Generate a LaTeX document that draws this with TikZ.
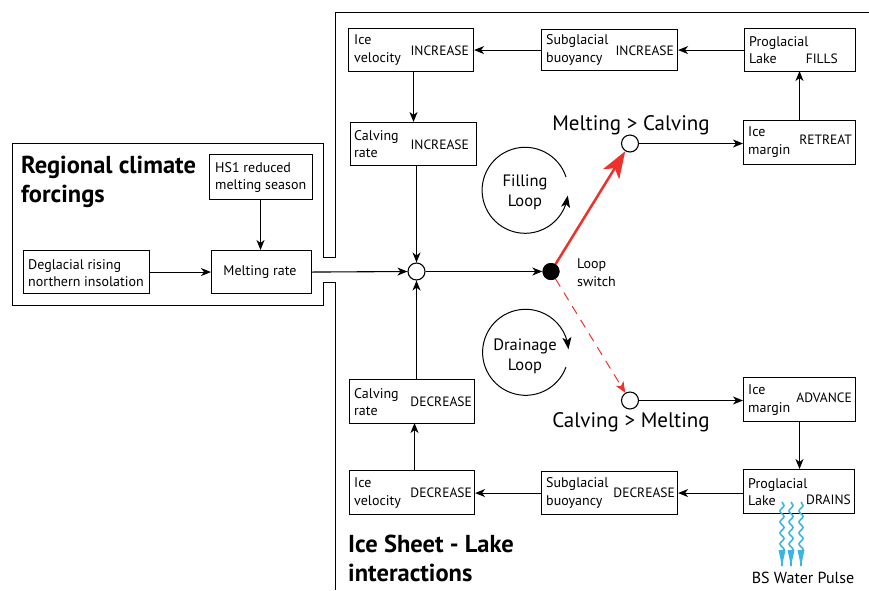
\documentclass[tikz,border=0pt]{standalone}
\usepackage{fontspec}
\setmainfont{PT Sans}
\usetikzlibrary{arrows.meta,decorations.pathmorphing,bending}
\definecolor{redarrow}{RGB}{237,50,43}
\definecolor{bluewater}{RGB}{60,180,228}
\tikzset{
 x=1pt,y=-1pt,
 bx/.style={draw=black,line width=1.1pt,inner sep=0pt},
 con/.style={line width=1.1pt,-{Stealth[length=10pt,width=8pt,inset=3pt]}},
 lbl/.style={font=\fontsize{14}{17.5}\selectfont,align=left,anchor=west,inner sep=0pt},
 vlbl/.style={font=\fontsize{13.5}{17.5}\selectfont,anchor=east,inner sep=0pt},
 clbl/.style={font=\fontsize{14}{17.5}\selectfont,align=center,inner sep=0pt},
 big/.style={font=\fontsize{21}{26}\selectfont,inner sep=0pt},
 head/.style={font=\fontsize{24.5}{29}\selectfont\bfseries,align=left,anchor=west,inner sep=0pt},
 loopl/.style={font=\fontsize{16.5}{20}\selectfont,align=center,inner sep=0pt},
 wh/.style={circle,draw=black,line width=1.1pt,fill=white,minimum size=17pt,inner sep=0pt},
 blk/.style={circle,fill=black,minimum size=17pt,inner sep=0pt},
 wave/.style={draw=bluewater,line width=1.6pt,decorate,decoration={snake,amplitude=2pt,segment length=11pt,post length=9pt}},
 wtip/.style={fill=bluewater,draw=none},
}
\newcommand{\boxat}[4]{\node[bx,minimum width=#3pt,minimum height=#4pt,anchor=north west] (#1) at (#2) {}; }
\begin{document}
\begin{tikzpicture}
\useasboundingbox (0,0) rectangle (869,590);
% frames
\draw[line width=1.1pt] (869,12.5) -- (335.5,12.5) -- (335.5,257.5) -- (323.5,257.5) -- (323.5,143.5) -- (12.5,143.5) -- (12.5,305.5) -- (323.5,305.5) -- (323.5,282.5) -- (335.5,282.5) -- (335.5,590);
% boxes
\boxat{hs}{209,154}{103}{45}
\boxat{melt}{211,250}{100}{43}
\boxat{degl}{23,250}{126}{43}
\boxat{iv1}{348,28}{125}{43}
\boxat{sb1}{541,29}{136}{41}
\boxat{pl1}{744,28}{111}{43}
\boxat{cr1}{350,122}{126}{43}
\boxat{im1}{743,120}{112}{44}
\boxat{cr2}{349,379}{125}{44}
\boxat{iv2}{349,470}{125}{44}
\boxat{sb2}{541,471}{136}{43}
\boxat{pl2}{743,469}{111}{44}
\boxat{im2}{743,377}{112}{44}
% box text
\node[head] (tr) at (21,182) {Regional climate\\forcings};
\node[head] (ti) at (348,558) {Ice Sheet - Lake\\interactions};
\node[lbl] (t1) at (215,177.5) {HS1 reduced\\melting season};
\node[lbl] (t2) at (28,273) {Deglacial rising\\northern insolation};
\node[clbl] (t3) at (260,272) {Melting rate};
\node[lbl] (a1) at (354,50) {Ice\\velocity}; \node[vlbl] (a2) at (469,51) {INCREASE};
\node[lbl] (b1) at (546,50) {Subglacial\\buoyancy}; \node[vlbl] (b2) at (674,51) {INCREASE};
\node[lbl] (c1) at (749,50) {Proglacial\\Lake}; \node[vlbl] (c2) at (838,59) {FILLS};
\node[lbl] (d1) at (354,144) {Calving\\rate}; \node[vlbl] (d2) at (469,145) {INCREASE};
\node[lbl] (e1) at (748,142) {Ice\\margin}; \node[vlbl] (e2) at (852,140) {RETREAT};
\node[lbl] (f1) at (354,402) {Calving\\rate}; \node[vlbl] (f2) at (472,402) {DECREASE};
\node[lbl] (g1) at (354,493) {Ice\\velocity}; \node[vlbl] (g2) at (472,493) {DECREASE};
\node[lbl] (h1) at (546,493) {Subglacial\\buoyancy}; \node[vlbl] (h2) at (675,493) {DECREASE};
\node[lbl] (j1) at (748,492) {Proglacial\\Lake}; \node[vlbl] (j2) at (851,500) {DRAINS};
\node[lbl] (k1) at (748,400) {Ice\\margin}; \node[vlbl] (k2) at (852,398) {ADVANCE};
% junctions
\node[wh] (jn) at (416.5,271.5) {};
\node[blk] (sw) at (551,271.5) {};
\node[wh] (up) at (630,143.5) {};
\node[wh] (dn) at (630,400.5) {};
% labels
\node[big] (mc) at (631,125) {Melting > Calving};
\node[big] (cm) at (631,422) {Calving > Melting};
\node[lbl] (ls) at (577,272.5) {Loop\\switch};
\node[loopl] (fl) at (525,192) {Filling\\Loop};
\node[loopl] (dl) at (525,356) {Drainage\\Loop};
\node[clbl,font=\fontsize{16}{18}\selectfont] (bs) at (803,578) {BS Water Pulse};
% connectors
\draw[con] (hs.south -| 260.5,0) -- (260.5,250);
\draw[con] (degl.east) -- (melt.west);
\draw[con] (melt.east) -- (jn.west);
\draw[con] (jn.east) -- (sw.west);
\draw[con] (sb1.west) -- (iv1.east |- sb1.west);
\draw[con] (pl1.west |- sb1.east) -- (sb1.east);
\draw[con] (im1.north -| 799.5,0) -- (799.5,71);
\draw[con] (up.east) -- (im1.west |- up.east);
\draw[con] (413.5,71) -- (413.5,122);
\draw[con] (cr1.south -| 416.5,0) -- (jn.north);
\draw[con] (cr2.north -| 416.5,0) -- (jn.south);
\draw[con] (iv2.north -| 414.5,0) -- (414.5,423);
\draw[con] (sb2.west) -- (iv2.east |- sb2.west);
\draw[con] (pl2.west |- sb2.east) -- (sb2.east);
\draw[con] (im2.south -| 799.5,0) -- (799.5,469);
\draw[con] (dn.east) -- (im2.west |- dn.east);
% red
\draw[redarrow,line width=2.5pt,-{Stealth[length=27pt,width=19pt,inset=7pt]}] (sw) -- (up);
\draw[redarrow,line width=1pt,dash pattern=on 9pt off 7pt,-{Stealth[length=11pt,width=9pt,inset=3pt]}] (sw) -- (dn);
\node[blk] at (sw) {};
% loops
\draw[line width=1pt,-{Stealth[length=12pt,width=9pt,inset=3pt,flex=0.6]}] (566,177) arc[start angle=-18,end angle=-353,radius=43];
\draw[line width=1pt,-{Stealth[length=12pt,width=9pt,inset=3pt,flex=0.6]}] (566,367) arc[start angle=20,end angle=356,radius=43];
% water
\foreach \xx/\n in {782/w1,791/w2,801/w3}{
 \coordinate (\n a) at (\xx,502);
 \coordinate (\n b) at (\xx,566);
 \draw[wave] (\n a) -- (\n b);
 \fill[wtip] (\xx,566) -- (\xx-3.5,550) -- (\xx+3.5,550) -- cycle;
}
\end{tikzpicture}
\end{document}
